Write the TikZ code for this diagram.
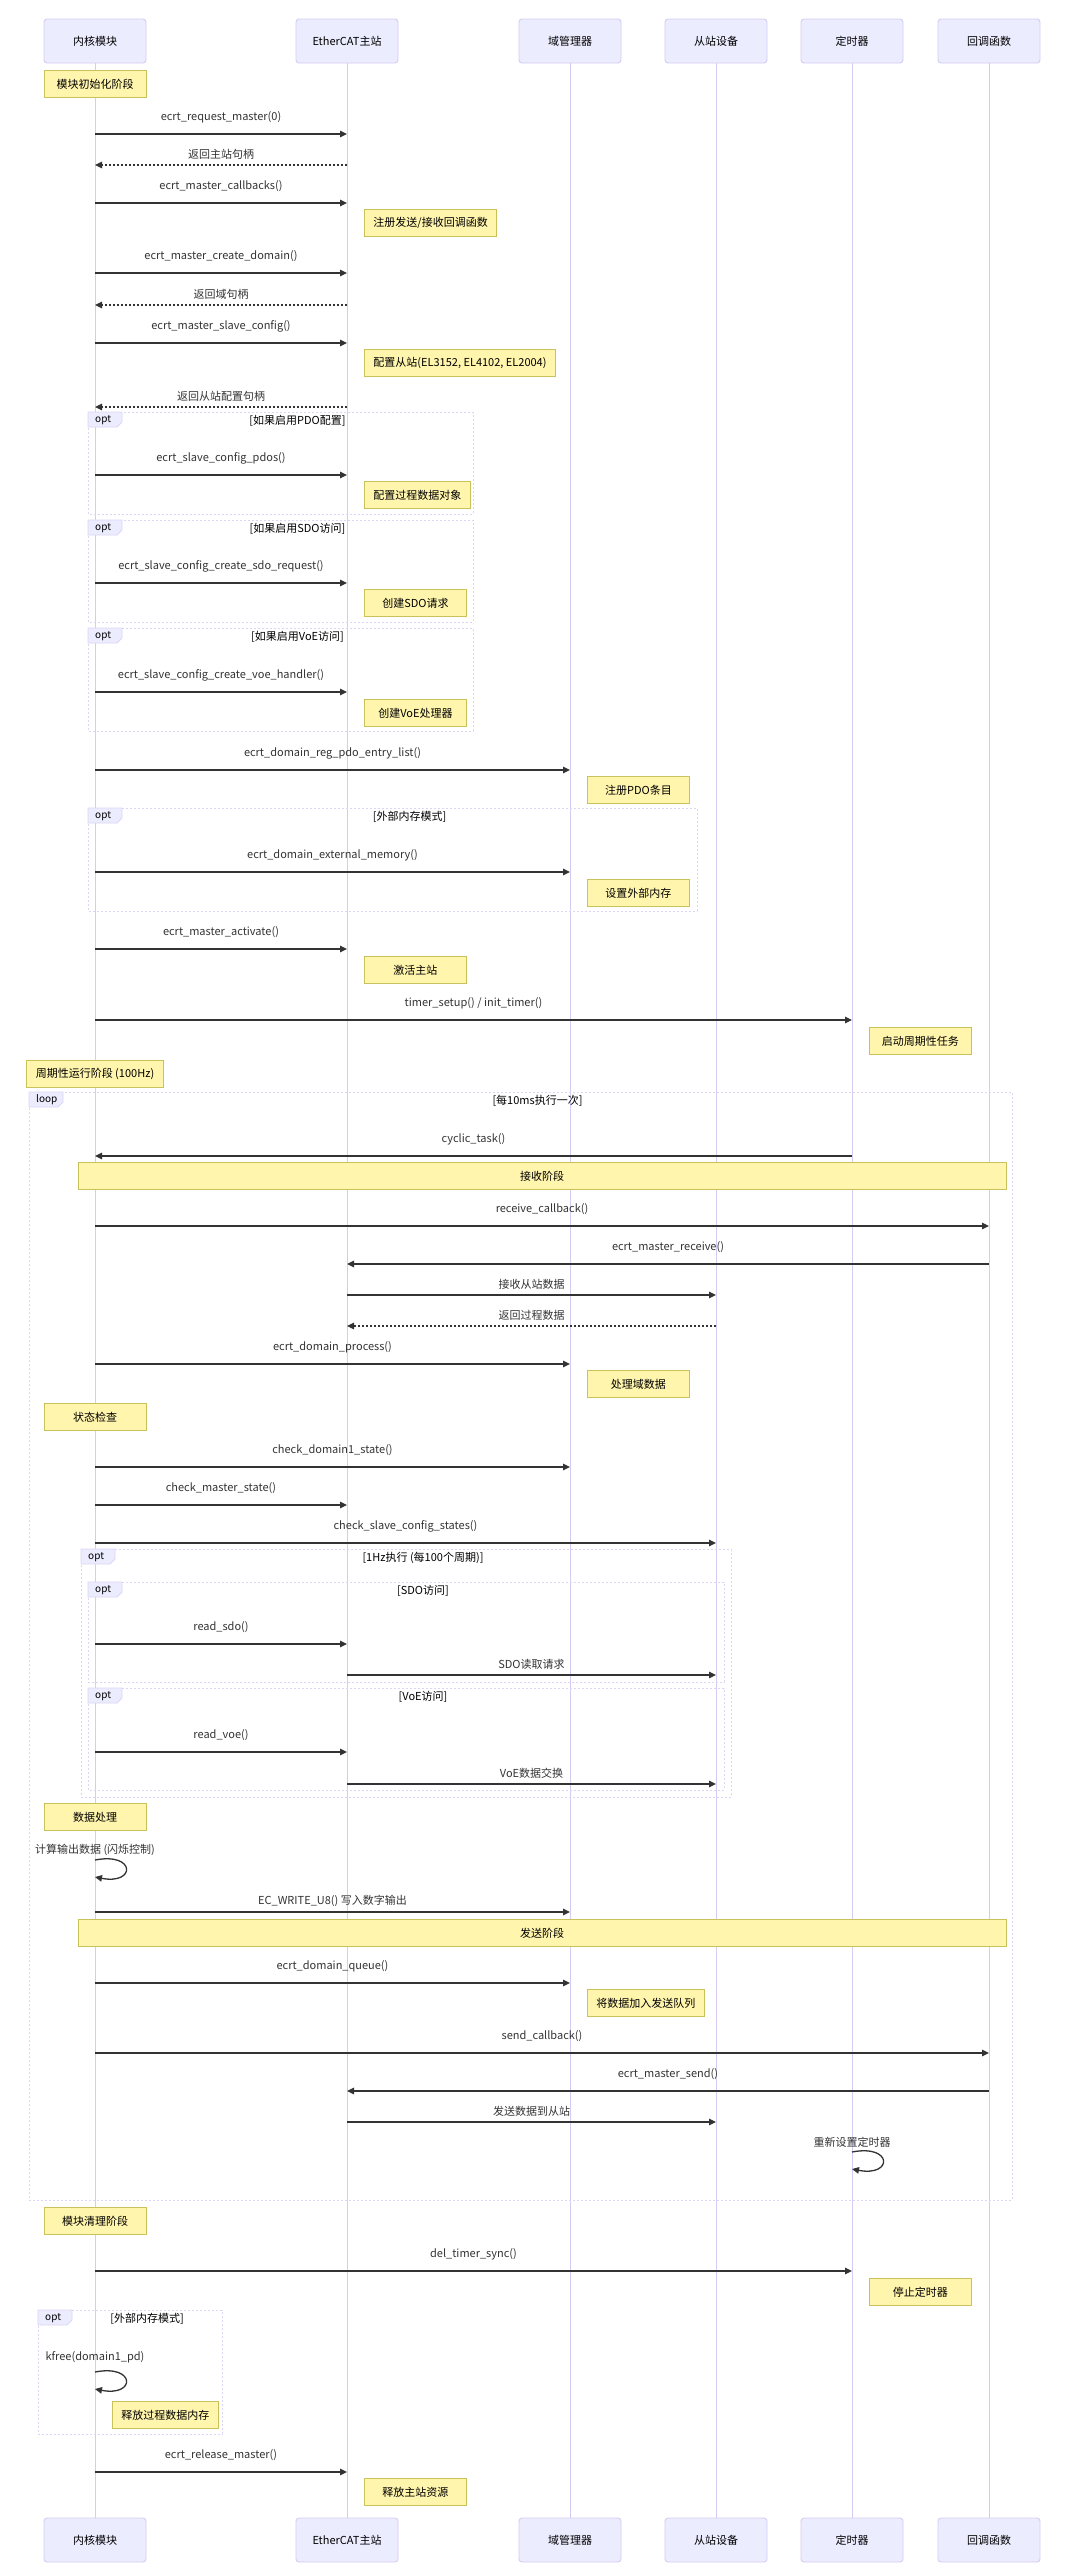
\documentclass[tikz,border=0pt]{standalone}
\usepackage{fontspec}
\setmainfont{Noto Sans CJK SC}
\usetikzlibrary{arrows.meta,calc}

\definecolor{actorbg}{HTML}{ECECFF}
\definecolor{actorbd}{HTML}{D5CBF3}
\definecolor{fragbd}{HTML}{DDD5F6}
\definecolor{notebg}{HTML}{FFF5AD}
\definecolor{notebd}{HTML}{C9C15A}
\definecolor{signal}{HTML}{333333}

\begin{document}
\begin{tikzpicture}[x=1pt, y=-1pt, >={Triangle[length=7pt,width=6.5pt]},
  font=\fontsize{11}{13}\selectfont,
  actor/.style={draw=actorbd, fill=actorbg, rounded corners=3pt, line width=0.9pt,
    minimum width=102pt, minimum height=44pt},
  life/.style={draw=actorbd, line width=1pt},
  note/.style={draw=notebd, fill=notebg, line width=0.9pt, minimum width=102pt,
    minimum height=27pt, inner xsep=9pt},
  rnote/.style={note, anchor=north west, xshift=17pt},
  onote/.style={note, anchor=north},
  msg/.style={->, draw=signal, line width=1.3pt},
  reply/.style={msg, dash pattern=on 2pt off 2pt},
  lblhi/.style={text=signal, yshift=17pt},
  lbllo/.style={text=signal, yshift=11pt},
  fragbox/.style={draw=fragbd, line width=1pt, dash pattern=on 2pt off 2pt},
  tag/.style={fill=actorbg, draw=fragbd, line width=0.8pt}]
  \fill[white] (0,0) rectangle (1080,2576);
  \useasboundingbox (0,0) rectangle (1080,2576);

  % Participants
  \node[actor] (kern) at (95,41) {内核模块};
  \node[actor] (ecm) at (347,41) {EtherCAT主站};
  \node[actor] (dom) at (570,41) {域管理器};
  \node[actor] (slv) at (716,41) {从站设备};
  \node[actor] (tmr) at (852,41) {定时器};
  \node[actor] (cbk) at (989,41) {回调函数};
  \node[actor] (kern-b) at (95,2540) {内核模块};
  \node[actor] (ecm-b) at (347,2540) {EtherCAT主站};
  \node[actor] (dom-b) at (570,2540) {域管理器};
  \node[actor] (slv-b) at (716,2540) {从站设备};
  \node[actor] (tmr-b) at (852,2540) {定时器};
  \node[actor] (cbk-b) at (989,2540) {回调函数};

  % Lifelines
  \foreach \a in {kern,ecm,dom,slv,tmr,cbk}
    \draw[life] (\a.south) -- (\a-b.north);

  % Fragments (opt / loop)
  \foreach \xa/\ya/\xb/\yb/\kind/\cond [count=\i] in {
      88/412/473/514/opt/{[如果启用PDO配置]},
      88/520/473/622/opt/{[如果启用SDO访问]},
      88/628/473/731/opt/{[如果启用VoE访问]},
      88/808/697/911/opt/{[外部内存模式]},
      29/1092/1012/2200/loop/{[每10ms执行一次]},
      81/1549/731/1797/opt/{[1Hz执行 (每100个周期)]},
      88/1582/724/1682/opt/{[SDO访问]},
      88/1688/724/1790/opt/{[VoE访问]},
      38/2310/222/2434/opt/{[外部内存模式]}} {
    \draw[fragbox] (\xa,\ya) rectangle (\xb,\yb);
    \draw[tag] (\xa,\ya) -- ++(34,0) -- ++(0,10) -- ++(-5,5) -- ++(-29,0) -- cycle;
    \node[anchor=west, inner sep=0pt, font=\fontsize{10}{12}\selectfont]
      (frag\i-kind) at (\xa+7,\ya+8) {\kind};
    \node (frag\i-cond) at ({(\xa+\xb)/2+17},\ya+9) {\cond};
  }

  % Notes
  \node[onote] (n-init) at (kern |- 0,70) {模块初始化阶段};
  \node[rnote] (n-cb) at (ecm |- 0,209) {注册发送/接收回调函数};
  \node[rnote] (n-slv) at (ecm |- 0,349) {配置从站(EL3152, EL4102, EL2004)};
  \node[rnote] (n-pdo) at (ecm |- 0,481) {配置过程数据对象};
  \node[rnote] (n-sdo) at (ecm |- 0,589) {创建SDO请求};
  \node[rnote] (n-voe) at (ecm |- 0,699) {创建VoE处理器};
  \node[rnote] (n-reg) at (dom |- 0,776) {注册PDO条目};
  \node[rnote] (n-ext) at (dom |- 0,879) {设置外部内存};
  \node[rnote] (n-act) at (ecm |- 0,956) {激活主站};
  \node[rnote] (n-tmr) at (tmr |- 0,1027) {启动周期性任务};
  \node[onote] (n-cyc) at (kern |- 0,1060) {周期性运行阶段 (100Hz)};
  \node[onote, minimum width=928pt] (n-rx) at ($(kern |- 0,1162)!0.5!(cbk |- 0,1162)$) {接收阶段};
  \node[rnote] (n-proc) at (dom |- 0,1370) {处理域数据};
  \node[onote] (n-chk) at (kern |- 0,1403) {状态检查};
  \node[onote] (n-data) at (kern |- 0,1803) {数据处理};
  \node[onote, minimum width=928pt] (n-tx) at ($(kern |- 0,1919)!0.5!(cbk |- 0,1919)$) {发送阶段};
  \node[rnote] (n-queue) at (dom |- 0,1989) {将数据加入发送队列};
  \node[onote] (n-clean) at (kern |- 0,2207) {模块清理阶段};
  \node[rnote] (n-stop) at (tmr |- 0,2278) {停止定时器};
  \node[rnote] (n-free) at (kern |- 0,2401) {释放过程数据内存};
  \node[rnote] (n-rel) at (ecm |- 0,2478) {释放主站资源};

  % Initialisation messages
  \draw[msg] (kern |- 0,134) -- node[lblhi] (m1) {ecrt\_request\_master(0)} (ecm |- 0,134);
  \draw[reply] (ecm |- 0,165) -- node[lbllo] (m2) {返回主站句柄} (kern |- 0,165);
  \draw[msg] (kern |- 0,203) -- node[lblhi] (m3) {ecrt\_master\_callbacks()} (ecm |- 0,203);
  \draw[msg] (kern |- 0,273) -- node[lblhi] (m4) {ecrt\_master\_create\_domain()} (ecm |- 0,273);
  \draw[reply] (ecm |- 0,305) -- node[lbllo] (m5) {返回域句柄} (kern |- 0,305);
  \draw[msg] (kern |- 0,343) -- node[lblhi] (m6) {ecrt\_master\_slave\_config()} (ecm |- 0,343);
  \draw[reply] (ecm |- 0,407) -- node[lbllo] (m7) {返回从站配置句柄} (kern |- 0,407);
  \draw[msg] (kern |- 0,475) -- node[lblhi] (m8) {ecrt\_slave\_config\_pdos()} (ecm |- 0,475);
  \draw[msg] (kern |- 0,583) -- node[lblhi] (m9) {ecrt\_slave\_config\_create\_sdo\_request()} (ecm |- 0,583);
  \draw[msg] (kern |- 0,692) -- node[lblhi] (m10) {ecrt\_slave\_config\_create\_voe\_handler()} (ecm |- 0,692);
  \draw[msg] (kern |- 0,770) -- node[lblhi] (m11) {ecrt\_domain\_reg\_pdo\_entry\_list()} (dom |- 0,770);
  \draw[msg] (kern |- 0,872) -- node[lblhi] (m12) {ecrt\_domain\_external\_memory()} (dom |- 0,872);
  \draw[msg] (kern |- 0,949) -- node[lblhi] (m13) {ecrt\_master\_activate()} (ecm |- 0,949);
  \draw[msg] (kern |- 0,1020) -- node[lblhi] (m14) {timer\_setup() / init\_timer()} (tmr |- 0,1020);

  % Cyclic part: receive
  \draw[msg] (tmr |- 0,1156) -- node[lblhi] (m15) {cyclic\_task()} (kern |- 0,1156);
  \draw[msg] (kern |- 0,1226) -- node[lblhi] (m16) {receive\_callback()} (cbk |- 0,1226);
  \draw[msg] (cbk |- 0,1264) -- node[lblhi] (m17) {ecrt\_master\_receive()} (ecm |- 0,1264);
  \draw[msg] (ecm |- 0,1295) -- node[lbllo] (m18) {接收从站数据} (slv |- 0,1295);
  \draw[reply] (slv |- 0,1326) -- node[lbllo] (m19) {返回过程数据} (ecm |- 0,1326);
  \draw[msg] (kern |- 0,1364) -- node[lblhi] (m20) {ecrt\_domain\_process()} (dom |- 0,1364);

  % State checks
  \draw[msg] (kern |- 0,1467) -- node[lblhi] (m21) {check\_domain1\_state()} (dom |- 0,1467);
  \draw[msg] (kern |- 0,1505) -- node[lblhi] (m22) {check\_master\_state()} (ecm |- 0,1505);
  \draw[msg] (kern |- 0,1543) -- node[lblhi] (m23) {check\_slave\_config\_states()} (slv |- 0,1543);
  \draw[msg] (kern |- 0,1644) -- node[lblhi] (m24) {read\_sdo()} (ecm |- 0,1644);
  \draw[msg] (ecm |- 0,1675) -- node[lbllo] (m25) {SDO读取请求} (slv |- 0,1675);
  \draw[msg] (kern |- 0,1752) -- node[lblhi] (m26) {read\_voe()} (ecm |- 0,1752);
  \draw[msg] (ecm |- 0,1784) -- node[lbllo] (m27) {VoE数据交换} (slv |- 0,1784);

  % Data processing
  \node[text=signal] (m28) at (kern |- 0,1850) {计算输出数据 (闪烁控制)};
  \draw[msg] (kern |- 0,1860) .. controls +(41,-8) and +(41,8) .. (kern |- 0,1877);
  \draw[msg] (kern |- 0,1912) -- node[lbllo] (m29) {EC\_WRITE\_U8() 写入数字输出} (dom |- 0,1912);

  % Cyclic part: send
  \draw[msg] (kern |- 0,1983) -- node[lblhi] (m30) {ecrt\_domain\_queue()} (dom |- 0,1983);
  \draw[msg] (kern |- 0,2053) -- node[lblhi] (m31) {send\_callback()} (cbk |- 0,2053);
  \draw[msg] (cbk |- 0,2091) -- node[lblhi] (m32) {ecrt\_master\_send()} (ecm |- 0,2091);
  \draw[msg] (ecm |- 0,2122) -- node[lbllo] (m33) {发送数据到从站} (slv |- 0,2122);
  \node[text=signal] (m34) at (tmr |- 0,2142) {重新设置定时器};
  \draw[msg] (tmr |- 0,2152) .. controls +(41,-8) and +(41,8) .. (tmr |- 0,2169);

  % Cleanup
  \draw[msg] (kern |- 0,2271) -- node[lblhi] (m35) {del\_timer\_sync()} (tmr |- 0,2271);
  \node[text=signal] (m36) at (kern |- 0,2357) {kfree(domain1\_pd)};
  \draw[msg] (kern |- 0,2372) .. controls +(41,-8) and +(41,8) .. (kern |- 0,2389);
  \draw[msg] (kern |- 0,2472) -- node[lblhi] (m37) {ecrt\_release\_master()} (ecm |- 0,2472);
\end{tikzpicture}
\end{document}
